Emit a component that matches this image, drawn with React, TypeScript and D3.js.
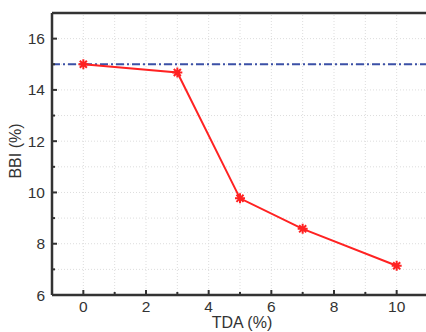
import * as d3 from "d3";

const tda = [0, 3, 5, 7, 10];
const bbi = [15.0, 14.68, 9.77, 8.58, 7.14];
const refLevel = 15;
const xTicks = [0, 2, 4, 6, 8, 10];
const yTicks = [6, 8, 10, 12, 14, 16];

const W = 426;
const H = 332;
const M = { top: 13, right: -2, bottom: 37, left: 52 };

export default function App() {
  const x = d3.scaleLinear().domain([-1, 11]).range([M.left, W - M.right]);
  const y = d3.scaleLinear().domain([6, 17]).range([H - M.bottom, M.top]);
  const line = d3
    .line<number>()
    .x((_, i) => x(tda[i]))
    .y((d) => y(d));

  const gridX = d3.range(-1, 12);
  const gridY = d3.range(6, 18);
  const minorX = d3.range(-1, 12, 2);
  const minorY = d3.range(7, 17, 2);
  const font = "Liberation Sans, Arial, sans-serif";
  const axisColor = "#333";

  const star = (cx: number, cy: number, key: number) => {
    const r = 5;
    const d = [0, 45, 90, 135]
      .map((a) => {
        const t = (a * Math.PI) / 180;
        return `M${cx - r * Math.cos(t)},${cy - r * Math.sin(t)}L${cx + r * Math.cos(t)},${cy + r * Math.sin(t)}`;
      })
      .join("");
    return <path key={key} d={d} stroke="#f22" strokeWidth={2} />;
  };

  return (
    <svg
      width={W}
      height={H}
      style={{ position: "absolute", left: 0, top: 0, background: "#fff" }}
    >
      {/* grid */}
      {gridX.map((v) => (
        <line
          key={"gx" + v}
          x1={x(v)}
          x2={x(v)}
          y1={y(6)}
          y2={y(17)}
          stroke="#ddd"
          strokeDasharray="1,2"
        />
      ))}
      {gridY.map((v) => (
        <line
          key={"gy" + v}
          x1={x(-1)}
          x2={x(11)}
          y1={y(v)}
          y2={y(v)}
          stroke="#ddd"
          strokeDasharray="1,2"
        />
      ))}

      {/* reference line */}
      <line
        x1={x(-1)}
        x2={x(11)}
        y1={y(refLevel)}
        y2={y(refLevel)}
        stroke="#3b50a6"
        strokeWidth={2}
        strokeDasharray="8,3,2,3"
      />

      {/* frame */}
      <line x1={x(-1)} x2={W} y1={y(17)} y2={y(17)} stroke={axisColor} strokeWidth={2.5} />
      <line x1={x(-1)} x2={x(-1)} y1={y(17)} y2={y(6)} stroke={axisColor} strokeWidth={2.5} />
      <line x1={x(-1)} x2={W} y1={y(6)} y2={y(6)} stroke={axisColor} strokeWidth={2.5} />

      {/* ticks */}
      {xTicks.map((v) => (
        <g key={"xt" + v}>
          <line x1={x(v)} x2={x(v)} y1={y(6)} y2={y(6) - 5} stroke={axisColor} strokeWidth={2} />
          <text
            x={x(v)}
            y={y(6) + 17}
            textAnchor="middle"
            fontFamily={font}
            fontSize={15.5}
            fill="#333"
          >
            {v}
          </text>
        </g>
      ))}
      {minorX.map((v) => (
        <line key={"xm" + v} x1={x(v)} x2={x(v)} y1={y(6)} y2={y(6) - 3} stroke={axisColor} strokeWidth={2} />
      ))}
      {yTicks.map((v) => (
        <g key={"yt" + v}>
          <line x1={x(-1)} x2={x(-1) + 5} y1={y(v)} y2={y(v)} stroke={axisColor} strokeWidth={2} />
          <text
            x={x(-1) - 7}
            y={y(v) + 5.5}
            textAnchor="end"
            fontFamily={font}
            fontSize={15.5}
            fill="#333"
          >
            {v}
          </text>
        </g>
      ))}
      {minorY.map((v) => (
        <line key={"ym" + v} x1={x(-1)} x2={x(-1) + 3} y1={y(v)} y2={y(v)} stroke={axisColor} strokeWidth={2} />
      ))}

      {/* data */}
      <path d={line(bbi) ?? ""} fill="none" stroke="#f22" strokeWidth={2} />
      {bbi.map((v, i) => star(x(tda[i]), y(v), i))}

      {/* titles */}
      <text
        x={242}
        y={328}
        textAnchor="middle"
        fontFamily={font}
        fontSize={16}
        fill="#333"
      >
        TDA (%)
      </text>
      <text
        transform="translate(21,151) rotate(-90)"
        textAnchor="middle"
        fontFamily={font}
        fontSize={16}
        fill="#333"
      >
        BBI (%)
      </text>
    </svg>
  );
}
